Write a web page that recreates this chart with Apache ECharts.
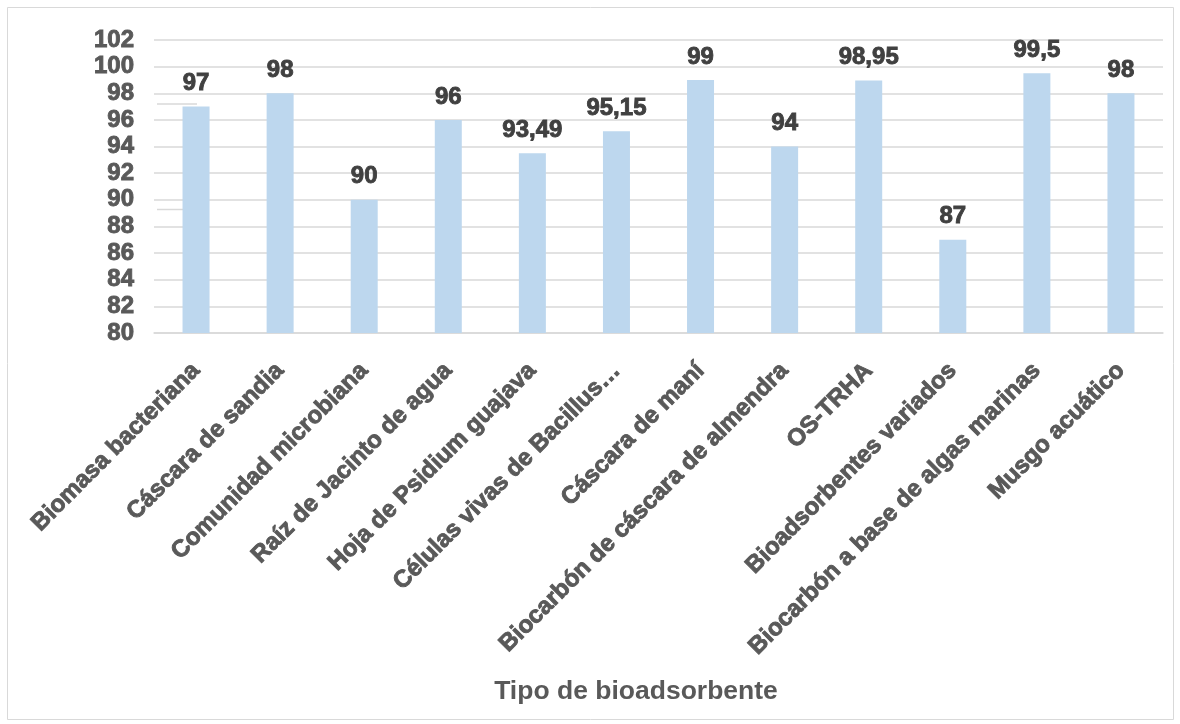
<!DOCTYPE html>
<html>
<head>
<meta charset="utf-8">
<script src="https://cdn.jsdelivr.net/npm/echarts@6/dist/echarts.min.js"></script>
<style>
  html, body { margin: 0; padding: 0; background: #fff; }
  #chart { width: 1180px; height: 724px; }
</style>
</head>
<body>
<div id="chart"></div>
<script>
// Removal efficiency (%) by bioadsorbent type
const categories = [
  'Biomasa bacteriana',
  'Cáscara de sandia',
  'Comunidad microbiana',
  'Raíz de Jacinto de agua',
  'Hoja de Psidium guajava',
  'Células vivas de Bacillus…',
  'Cáscara de maní',
  'Biocarbón de cáscara de almendra',
  'OS-TRHA',
  'Bioadsorbentes variados',
  'Biocarbón a base de algas marinas',
  'Musgo acuático'
];
const values = [97, 98, 90, 96, 93.49, 95.15, 99, 94, 98.95, 87, 99.5, 98];

const yMin = 80;
const yMax = 102;
const yStep = 2;

const fmt = v => String(v).replace('.', ',');

// heavy bold text style shared by axis and value labels
const heavy = (size, color) => ({
  fontFamily: 'Liberation Sans',
  fontWeight: 'bold',
  fontSize: size,
  color: color,
  textBorderColor: color,
  textBorderWidth: 0.9
});

const chart = echarts.init(document.getElementById('chart'));
chart.setOption({
  animation: false,
  backgroundColor: '#ffffff',
  graphic: [
    {
      type: 'rect',
      shape: { x: 7.5, y: 7.5, width: 1166, height: 712 },
      style: { fill: 'none', stroke: '#d9d9d9', lineWidth: 1 }
    },
    {
      type: 'line',
      shape: { x1: 157, y1: 104, x2: 197, y2: 104 },
      style: { stroke: '#d9d9d9', lineWidth: 1.5 }
    },
    {
      type: 'line',
      shape: { x1: 157, y1: 209.5, x2: 197, y2: 209.5 },
      style: { stroke: '#d9d9d9', lineWidth: 1.5 }
    },
    {
      type: 'text',
      x: 636, y: 692,
      style: {
        text: 'Tipo de bioadsorbente',
        textAlign: 'center',
        textVerticalAlign: 'middle',
        fontFamily: 'Liberation Sans', fontWeight: 'bold', fontSize: 26.5,
        fill: '#595959'
      }
    }
  ],
  grid: { left: 154, right: 17, top: 40, bottom: 391 },
  xAxis: {
    type: 'category',
    data: categories,
    axisLine: { show: true, lineStyle: { color: '#d9d9d9', width: 1.5 } },
    axisTick: { show: false },
    axisLabel: Object.assign({
      rotate: 45,
      interval: 0,
      margin: 34
    }, heavy(24, '#595959'))
  },
  yAxis: {
    type: 'value',
    min: yMin, max: yMax, interval: yStep,
    axisLine: { show: false },
    axisTick: { show: false },
    splitLine: { lineStyle: { color: '#d9d9d9', width: 1.5 } },
    axisLabel: Object.assign({ margin: 20 }, heavy(24, '#595959'))
  },
  series: [{
    type: 'bar',
    data: values,
    barWidth: 27,
    itemStyle: { color: '#bdd7ee' },
    label: Object.assign({
      show: true,
      position: 'top',
      distance: 11,
      formatter: p => fmt(p.value)
    }, heavy(24, '#404040'))
  }]
});
</script>
</body>
</html>
